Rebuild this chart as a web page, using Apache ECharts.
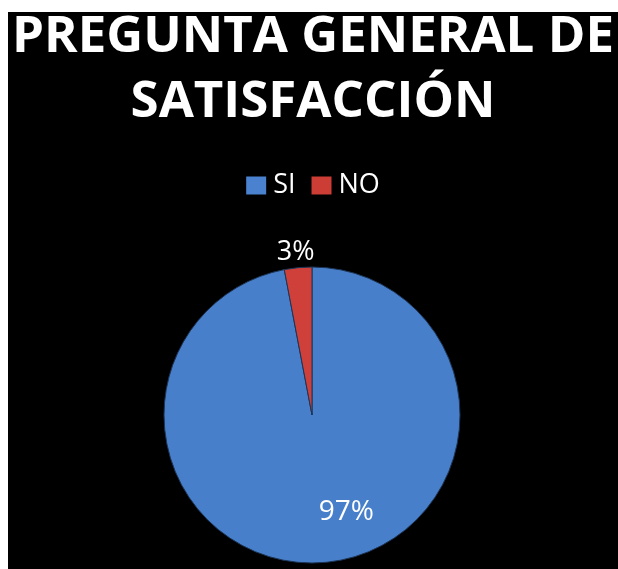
<!DOCTYPE html>
<html>
<head>
<meta charset="utf-8">
<script src="https://cdn.jsdelivr.net/npm/echarts@6/dist/echarts.min.js"></script>
<style>
html,body{margin:0;padding:0;background:#fff;}
#wrap{position:absolute;left:8px;top:12px;width:610px;height:557px;background:#000;}
#chart{width:610px;height:557px;}
</style>
</head>
<body>
<div id="wrap"><div id="chart"></div></div>
<script>
var titleText = 'PREGUNTA GENERAL DE\nSATISFACCIÓN';
var categories = ['SI', 'NO'];
var values = [97, 3];
var labelTexts = ['97%', '3%'];

var sliceColors = ['#477fca', '#d0403a'];
var legendColors = ['#4a82d0', '#cc3d36'];

var chart = echarts.init(document.getElementById('chart'), null, {renderer: 'canvas'});
var data = categories.map(function (c, i) {
  return {
    name: c,
    value: values[i],
    itemStyle: {color: sliceColors[i]},
    label: i === 0
      ? {position: 'inside', fontSize: 28}
      : {position: 'outside', fontSize: 27}
  };
});

chart.setOption({
  backgroundColor: '#000',
  title: {
    text: titleText,
    left: 'center',
    top: -7,
    padding: 0,
    textStyle: {
      color: '#fff',
      fontFamily: 'Open Sans',
      fontWeight: 'bold',
      fontSize: 51,
      lineHeight: 65
    }
  },
  legend: {
    top: 155,
    left: 'center',
    itemWidth: 20,
    itemHeight: 18,
    itemGap: 16,
    icon: 'rect',
    data: categories.map(function (c, i) {
      return {name: c, itemStyle: {color: legendColors[i], borderWidth: 0}};
    }),
    textStyle: {color: '#fff', fontSize: 27, fontFamily: 'Open Sans', padding: [0, 0, 0, 2]}
  },
  series: [{
    type: 'pie',
    center: [304, 403],
    radius: 148,
    startAngle: 90,
    clockwise: true,
    animation: false,
    data: data,
    itemStyle: {borderColor: '#1d3557', borderWidth: 1},
    label: {
      show: true,
      color: '#fff',
      fontFamily: 'Open Sans',
      formatter: function (p) { return labelTexts[p.dataIndex]; }
    },
    labelLine: {show: false, length: 6, length2: 0},
    labelLayout: function (p) {
      if (p.dataIndex === 0) return {dx: 27, dy: 20};
      return {dx: 22, dy: -9};
    }
  }]
});
</script>
</body>
</html>
